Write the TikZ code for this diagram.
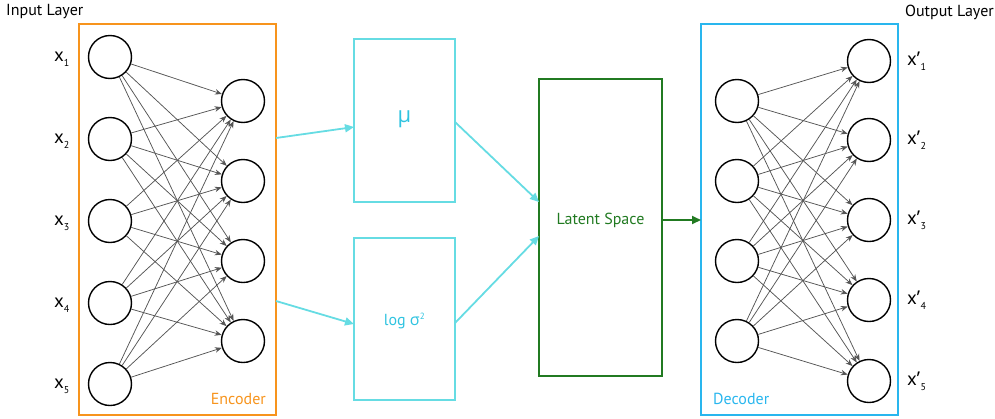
\documentclass[tikz,border=0pt]{standalone}
\usepackage{fontspec}
\setmainfont{PT Sans}
\newfontfamily\greekfont{Open Sans}
\usetikzlibrary{arrows.meta}
\definecolor{encorange}{HTML}{F7941D}
\definecolor{deccyan}{HTML}{29B6EE}
\definecolor{linkcyan}{HTML}{66DCE3}
\definecolor{mutext}{HTML}{2FC3E0}
\definecolor{latgreen}{HTML}{217A21}
\definecolor{wire}{HTML}{555555}
\tikzset{
  neuron/.style={circle,draw=black,line width=1.4pt,minimum size=43pt,inner sep=0pt,fill=white},
  wirearrow/.style={draw=wire,line width=0.75pt,-{Stealth[length=7pt,width=5.5pt]}},
  cyanarrow/.style={draw=linkcyan,line width=1.8pt,-{Triangle[length=9pt,width=8pt]}},
  greenarrow/.style={draw=latgreen,line width=1.8pt,-{Triangle[length=9pt,width=8pt]}},
  boxframe/.style={draw,line width=1.6pt,inner sep=0pt},
  xlabel/.style={font=\fontsize{19}{20}\selectfont,anchor=base west,inner sep=0pt},
  labelfont/.style={font=\fontsize{16}{16}\selectfont}
}
\newcommand{\lowsub}[1]{\raisebox{-5.5pt}{\fontsize{10}{10}\selectfont #1}}
\begin{document}
\begin{tikzpicture}[x=1pt,y=-1pt]
\useasboundingbox (0,0) rectangle (995,418);

% titles
\node[anchor=west,inner sep=0pt,labelfont] (inlab) at (6,12) {Input Layer};
\node[anchor=east,inner sep=0pt,labelfont] (outlab) at (994,12) {Output Layer};

% encoder frame
\node[boxframe,draw=encorange,minimum width=197pt,minimum height=391pt] (enc) at (177.5,219.5) {};
\node[anchor=south east,inner sep=0pt,text=encorange,labelfont] (enclab) at (266,405) {Encoder};

% decoder frame
\node[boxframe,draw=deccyan,minimum width=197pt,minimum height=391pt] (dec) at (799.5,219.5) {};
\node[anchor=south west,inner sep=0pt,text=deccyan,labelfont] (declab) at (713,405) {Decoder};

% mean, log-variance and latent boxes
\node[boxframe,draw=linkcyan,minimum width=101pt,minimum height=163pt] (mu) at (404.5,120.5) {};
\node[text=mutext,font=\greekfont\fontsize{22}{22}\selectfont] (mutxt) at (404.5,119) {μ};
\node[boxframe,draw=linkcyan,minimum width=101pt,minimum height=162pt] (lv) at (404.5,319) {};
\node[text=mutext,labelfont] (lvtxt) at (404.5,321) {log {\greekfont σ}\textsuperscript{\fontsize{9}{9}\selectfont 2}};
\node[boxframe,draw=latgreen,minimum width=123pt,minimum height=297pt] (lat) at (600.5,227.5) {};
\node[text=latgreen,labelfont] (lattxt) at (600.5,220) {Latent Space};

% input layer
\foreach \i/\y in {1/57,2/139,3/221,4/303,5/384}{
  \node[neuron] (in\i) at (110,\y) {};
  \node[xlabel] (inx\i) at (54,\y+4) {x\lowsub{\i}};
}
% encoder hidden layer
\foreach \i/\y in {1/101,2/181,3/261,4/341}{
  \node[neuron] (hid\i) at (243,\y) {};
}
% decoder hidden layer
\foreach \i/\y in {1/101,2/181,3/261,4/341}{
  \node[neuron] (dh\i) at (737,\y) {};
}
% output layer
\foreach \i/\y in {1/61,2/140,3/220,4/300,5/381}{
  \node[neuron] (out\i) at (869,\y) {};
  \node[xlabel] (outx\i) at (907,\y+4) {x{\greekfont ’}\kern0.5pt\lowsub{\i}};
}

% fully connected wiring
\foreach \a in {1,...,5}{
  \foreach \b in {1,...,4}{
    \draw[wirearrow] (in\a) -- (hid\b);
  }
}
\foreach \a in {1,...,4}{
  \foreach \b in {1,...,5}{
    \draw[wirearrow] (dh\a) -- (out\b);
  }
}

% data flow between blocks
\coordinate (encA) at (276,138);
\coordinate (encB) at (276,301);
\coordinate (muIn) at (354,127);
\coordinate (lvIn) at (354,324);
\coordinate (muOut) at (455,122);
\coordinate (lvOut) at (455,323);
\coordinate (latA) at (539,202);
\coordinate (latB) at (539,236);
\coordinate (latOut) at (662,220);
\coordinate (decIn) at (701,220);
\draw[cyanarrow] (encA) -- (muIn);
\draw[cyanarrow] (encB) -- (lvIn);
\draw[cyanarrow] (muOut) -- (latA);
\draw[cyanarrow] (lvOut) -- (latB);
\draw[greenarrow] (latOut) -- (decIn);
\end{tikzpicture}
\end{document}
